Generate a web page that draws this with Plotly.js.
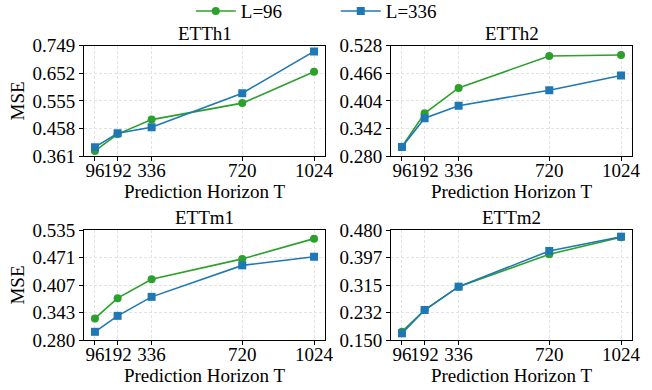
<!DOCTYPE html>
<html>
<head>
<meta charset="utf-8">
<script src="https://cdn.plot.ly/plotly-3.0.1.min.js"></script>
<style>html,body{margin:0;padding:0;background:#fff;}#chart{width:652px;height:390px;}</style>
</head>
<body>
<div id="chart"></div>
<script>
const horizons = [96, 192, 336, 720, 1024];
const panelTitles = ["ETTh1", "ETTh2", "ETTm1", "ETTm2"];
const seriesNames = ["L=96", "L=336"];

const etth1_L96  = [0.379, 0.438, 0.489, 0.547, 0.657];
const etth1_L336 = [0.392, 0.441, 0.462, 0.582, 0.729];
const etth2_L96  = [0.301, 0.376, 0.433, 0.505, 0.507];
const etth2_L336 = [0.300, 0.365, 0.393, 0.428, 0.461];
const ettm1_L96  = [0.330, 0.377, 0.421, 0.468, 0.515];
const ettm1_L336 = [0.299, 0.336, 0.380, 0.453, 0.473];
const ettm2_L96  = [0.175, 0.240, 0.310, 0.407, 0.458];
const ettm2_L336 = [0.170, 0.240, 0.310, 0.417, 0.460];

const etth1Ticks = [0.361, 0.458, 0.555, 0.652, 0.749];
const etth2Ticks = [0.280, 0.342, 0.404, 0.466, 0.528];
const ettm1Ticks = [0.280, 0.343, 0.407, 0.471, 0.535];
const ettm2Ticks = [0.150, 0.232, 0.315, 0.397, 0.480];

const green = "#2ca02c", blue = "#1f77b4";
const FONT = "Liberation Serif, Times New Roman, serif";
const FS = 19;

const panels = [
  {l96: etth1_L96, l336: etth1_L336, ticks: etth1Ticks},
  {l96: etth2_L96, l336: etth2_L336, ticks: etth2Ticks},
  {l96: ettm1_L96, l336: ettm1_L336, ticks: ettm1Ticks},
  {l96: ettm2_L96, l336: ettm2_L336, ticks: ettm2Ticks}
];

const W = 652, H = 390;
const xDomains = [[84/W, 325/W], [391/W, 632/W]];
const yDomains = [[1 - 156/H, 1 - 45.7/H], [1 - 340/H, 1 - 230/H]];

const traces = [];
const layout = {
  width: W, height: H,
  margin: {l: 0, r: 0, t: 0, b: 0, autoexpand: false},
  paper_bgcolor: "#fff", plot_bgcolor: "#fff",
  font: {family: FONT, size: FS, color: "#000"},
  showlegend: true,
  legend: {orientation: "h", x: 0.515, xanchor: "center", y: 1.02, yanchor: "top",
           font: {family: FONT, size: FS}, itemwidth: 40, tracegroupgap: 0,
           entrywidth: 90, entrywidthmode: "pixels", bgcolor: "rgba(0,0,0,0)"},
  annotations: []
};

panels.forEach((p, i) => {
  const n = i + 1;
  const xa = "x" + (n === 1 ? "" : n), ya = "y" + (n === 1 ? "" : n);
  const col = i % 2, row = Math.floor(i / 2);
  traces.push({
    x: horizons, y: p.l96, xaxis: xa, yaxis: ya, type: "scatter", mode: "lines+markers",
    name: seriesNames[0], legendgroup: "a", showlegend: i === 0,
    line: {color: green, width: 1.6}, marker: {symbol: "circle", size: 8, color: green}
  });
  traces.push({
    x: horizons, y: p.l336, xaxis: xa, yaxis: ya, type: "scatter", mode: "lines+markers",
    name: seriesNames[1], legendgroup: "b", showlegend: i === 0,
    line: {color: blue, width: 1.6}, marker: {symbol: "square", size: 8, color: blue}
  });
  const xkey = "xaxis" + (n === 1 ? "" : n), ykey = "yaxis" + (n === 1 ? "" : n);
  layout[xkey] = {
    domain: xDomains[col], anchor: ya, range: [49.6, 1070.4],
    tickvals: horizons, ticktext: horizons.map(String), tickangle: 0,
    ticks: "outside", ticklen: 4, tickcolor: "#000", ticklabelstandoff: -7,
    showline: true, linecolor: "#000", linewidth: 1, mirror: true,
    showgrid: true, gridcolor: "#e3e3e3", griddash: "3px,2px", gridwidth: 1,
    zeroline: false, tickfont: {family: FONT, size: FS}, automargin: false,
    title: {text: "Prediction Horizon T", font: {family: FONT, size: FS}, standoff: 0}
  };
  layout[ykey] = {
    domain: yDomains[row], anchor: xa, range: [p.ticks[0], p.ticks[4]],
    tickvals: p.ticks, ticktext: p.ticks.map(v => v.toFixed(3)), tickangle: 0,
    ticks: "outside", ticklen: 4, tickcolor: "#000",
    showline: true, linecolor: "#000", linewidth: 1, mirror: true,
    showgrid: true, gridcolor: "#e3e3e3", griddash: "3px,2px", gridwidth: 1,
    zeroline: false, tickfont: {family: FONT, size: FS}, automargin: false,
    title: col === 0 ? {text: "MSE", font: {family: FONT, size: FS}, standoff: 2} : {text: ""}
  };
  layout.annotations.push({
    text: panelTitles[i], xref: "paper", yref: "paper",
    x: (xDomains[col][0] + xDomains[col][1]) / 2, y: yDomains[row][1],
    xanchor: "center", yanchor: "bottom", yshift: 0, showarrow: false,
    font: {family: FONT, size: FS}
  });
});

Plotly.newPlot("chart", traces, layout, {displayModeBar: false, staticPlot: true});
</script>
</body>
</html>
